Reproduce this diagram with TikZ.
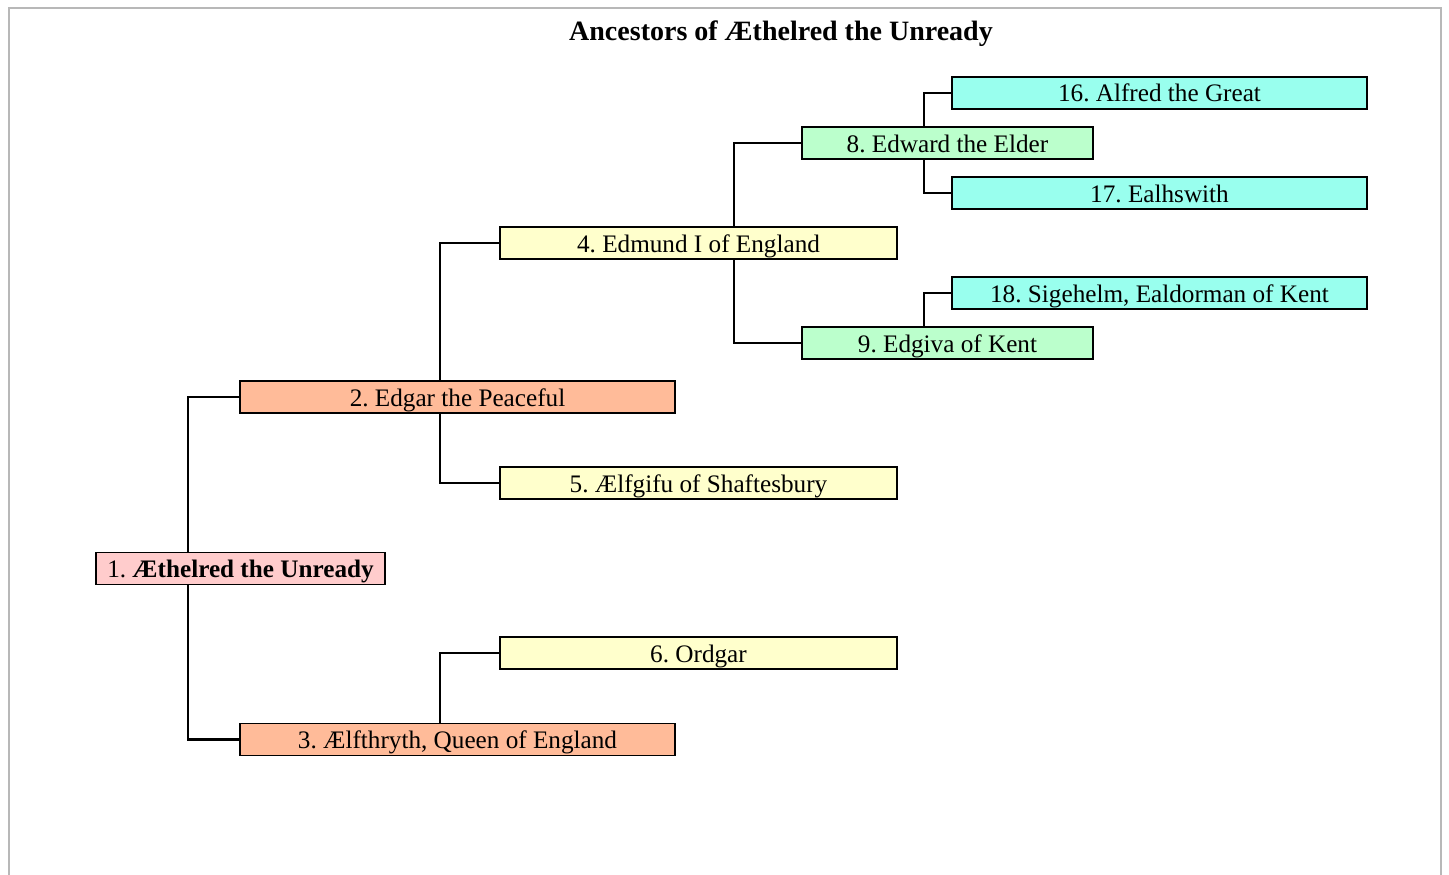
\documentclass[tikz,border=0pt]{standalone}
\usepackage{fontspec}
\setmainfont{Liberation Serif}
\frenchspacing
\definecolor{cpink}{HTML}{FFCCCC}
\definecolor{csalmon}{HTML}{FFBB99}
\definecolor{cyellow}{HTML}{FFFFCC}
\definecolor{cgreen}{HTML}{BBFFCC}
\definecolor{ccyan}{HTML}{99FFEE}
\definecolor{frame}{HTML}{B8B8B8}
\begin{document}
\begin{tikzpicture}[x=1pt,y=-1pt,
  person/.style={draw=black, line width=1.8pt, rectangle, inner sep=0pt, minimum height=32pt,
    font=\fontsize{25.2}{30}\selectfont, text height=21pt, text depth=3pt},
  gen1/.style={person, fill=cpink},
  gen2/.style={person, fill=csalmon, minimum width=435pt},
  gen3/.style={person, fill=cyellow, minimum width=397pt},
  gen4/.style={person, fill=cgreen, minimum width=291pt},
  gen5/.style={person, fill=ccyan, minimum width=415pt},
  link/.style={draw=black, line width=2.8pt, line cap=butt, line join=miter}]
\useasboundingbox (0,0) rectangle (1449,875);
\draw[frame, line width=2pt] (9,880) -- (9,8) -- (1441,8) -- (1441,880);
\node[font=\fontsize{28}{33}\selectfont\bfseries] (title) at (781,34) {Ancestors of Æthelred the Unready};

\node[gen1, minimum width=289pt] (n1) at (240.5,568.5) {1. \textbf{Æthelred the Unready}};
\node[gen2] (n2) at (457.5,397) {2. Edgar the Peaceful};
\node[gen2] (n3) at (457.5,739.5) {3. Ælfthryth, Queen of England};
\node[gen3] (n4) at (698.5,243) {4. Edmund I of England};
\node[gen3] (n5) at (698.5,483) {5. Ælfgifu of Shaftesbury};
\node[gen3] (n6) at (698.5,653) {6. Ordgar};
\node[gen4] (n8) at (947.5,143) {8. Edward the Elder};
\node[gen4] (n9) at (947.5,343) {9. Edgiva of Kent};
\node[gen5] (n16) at (1159.5,93) {16. Alfred the Great};
\node[gen5] (n17) at (1159.5,193) {17. Ealhswith};
\node[gen5] (n18) at (1159.5,293) {18. Sigehelm, Ealdorman of Kent};

\draw[link] ([xshift=-52.5pt]n1.north) |- (n2.west);
\draw[link] ([xshift=-52.5pt]n1.south) |- (n3.west);
\draw[link] ([xshift=-17.5pt]n2.north) |- (n4.west);
\draw[link] ([xshift=-17.5pt]n2.south) |- (n5.west);
\draw[link] ([xshift=-17.5pt]n3.north) |- (n6.west);
\draw[link] ([xshift=35.5pt]n4.north) |- (n8.west);
\draw[link] ([xshift=35.5pt]n4.south) |- (n9.west);
\draw[link] ([xshift=-23.5pt]n8.north) |- (n16.west);
\draw[link] ([xshift=-23.5pt]n8.south) |- (n17.west);
\draw[link] ([xshift=-23.5pt]n9.north) |- (n18.west);
\end{tikzpicture}
\end{document}
